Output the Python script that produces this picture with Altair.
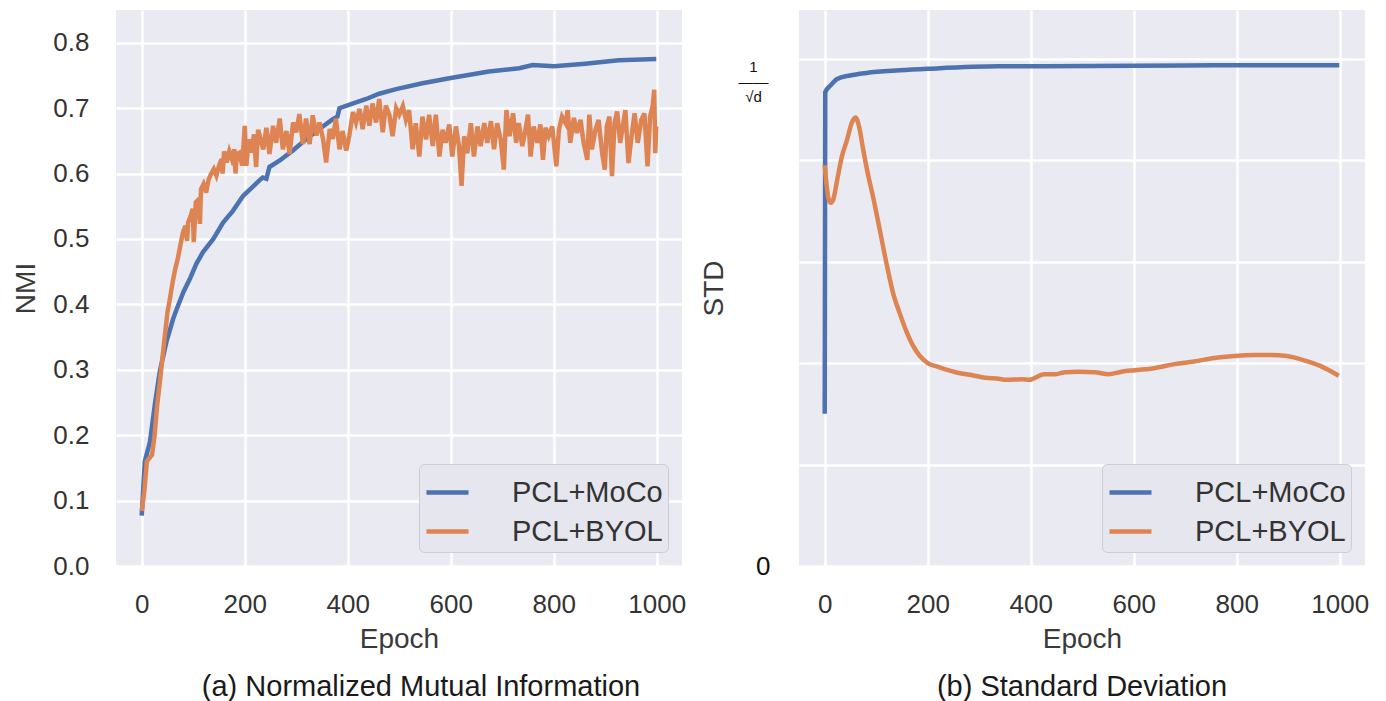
import altair as alt
import pandas as pd

SERIES = ["PCL+MoCo", "PCL+BYOL"]
COLORS = ["#4c72b0", "#dd8452"]
FONT = "Liberation Sans"

# ---- (a) NMI ----
nmi_moco_epoch = [0, 6, 16, 26, 35, 48, 61, 68, 81, 94, 106, 119, 139, 158, 177, 197, 216, 229, 235,
                  242, 248, 268, 293, 320, 345, 371, 380, 384, 409, 436, 461, 494, 545, 600, 674, 733,
                  759, 800, 861, 926, 999]
nmi_moco_value = [0.077, 0.16, 0.19, 0.25, 0.297, 0.343, 0.378, 0.393, 0.419, 0.44, 0.462, 0.48, 0.50,
                  0.525, 0.543, 0.566, 0.58, 0.59, 0.594, 0.592, 0.61, 0.62, 0.635, 0.653, 0.668, 0.683,
                  0.687, 0.70, 0.707, 0.714, 0.722, 0.729, 0.738, 0.746, 0.756, 0.761, 0.766, 0.764,
                  0.768, 0.773, 0.775]

nmi_byol_epoch = [0, 5, 10, 15, 20, 25, 30, 35, 40, 45, 50, 55, 60, 65, 70, 75, 80, 85, 88, 90, 95, 99,
                  101, 105, 110, 113, 115, 120, 125, 130, 135, 140, 145, 150, 155, 157, 160, 165, 170,
                  175, 180, 182, 185, 190, 195, 200, 203, 208, 213, 218, 222, 226,
                  229, 236, 242, 248, 255, 261, 268, 274, 281, 287, 294, 300, 306, 313, 319, 326, 332,
                  339, 345, 352, 358, 365, 371, 377, 384, 390, 397, 403, 410, 416, 423, 429, 436, 442,
                  448, 455, 461, 468, 474, 481,
                  487, 494, 500, 507, 513, 519, 526, 532, 539, 545, 552, 558, 565, 571, 578, 584, 590,
                  597, 603, 610, 616, 621, 626, 632, 639, 645, 652, 658, 665, 671, 678, 684, 690, 697,
                  703, 708, 714, 721, 727,
                  732, 739, 745, 750, 755, 761, 768, 774, 779, 784, 790, 797, 805, 810, 816, 823, 827,
                  832, 839, 845, 852, 858, 865, 869, 874, 881, 887, 894, 899, 903, 908, 913, 918, 923,
                  929, 934, 939, 945, 951, 957, 963, 970, 976, 982, 987, 992, 995, 997, 999]
nmi_byol_value = [0.084, 0.114, 0.16, 0.165, 0.17, 0.2, 0.246, 0.28, 0.317, 0.353, 0.388, 0.41, 0.434,
                  0.454, 0.47, 0.49, 0.51, 0.52, 0.497, 0.525, 0.535, 0.546, 0.495, 0.556, 0.56, 0.523,
                  0.576, 0.584, 0.571, 0.591, 0.6, 0.607, 0.597, 0.612, 0.622, 0.6, 0.634, 0.617, 0.634,
                  0.622, 0.637, 0.6, 0.63, 0.632, 0.612, 0.673, 0.612, 0.652, 0.632, 0.66, 0.61, 0.667,
                  0.658, 0.637, 0.67, 0.63, 0.673, 0.647, 0.684, 0.637, 0.665, 0.63, 0.678, 0.663, 0.691,
                  0.645, 0.684, 0.645, 0.689, 0.658, 0.678, 0.653, 0.617, 0.668, 0.653, 0.684, 0.637,
                  0.665, 0.635, 0.658, 0.694, 0.678, 0.699, 0.668, 0.704, 0.673, 0.707, 0.678, 0.714,
                  0.663, 0.704, 0.689,
                  0.657, 0.70, 0.69, 0.703, 0.682, 0.697, 0.637, 0.677, 0.626, 0.687, 0.652, 0.69, 0.642,
                  0.69, 0.626, 0.667, 0.647, 0.675, 0.626, 0.672, 0.642, 0.581, 0.657, 0.631, 0.677,
                  0.626, 0.672, 0.642, 0.677, 0.647, 0.68, 0.637, 0.677, 0.652, 0.606, 0.697, 0.657,
                  0.692, 0.647,
                  0.677, 0.642, 0.667, 0.69, 0.626, 0.672, 0.647, 0.675, 0.621, 0.67, 0.657, 0.672,
                  0.611, 0.667, 0.687, 0.677, 0.697, 0.647, 0.685, 0.662, 0.682, 0.647, 0.621, 0.69,
                  0.637, 0.667, 0.682, 0.631, 0.606, 0.672, 0.687, 0.596, 0.677, 0.695, 0.647, 0.672,
                  0.697, 0.616, 0.657, 0.692, 0.647, 0.682, 0.692, 0.611, 0.687, 0.703, 0.728, 0.631,
                  0.672]

# ---- (b) STD (in units where 1/sqrt(d) ~ 0.985) ----
std_moco_epoch = [0, 1, 11, 24, 49, 81, 146, 200, 338, 400, 600, 800, 999]
std_moco_value = [0.30, 0.934, 0.947, 0.96, 0.967, 0.972, 0.977, 0.98, 0.985, 0.985, 0.986, 0.987, 0.987]

std_byol_epoch = [0, 4, 8, 12, 17, 24, 33, 43, 53, 60, 67, 75, 85, 94, 107, 120, 133, 146, 158, 171,
                  184, 200, 222, 254, 287, 312, 338, 352, 384, 397, 426, 448, 467, 493, 525, 551, 576,
                  602, 640, 679, 717, 756, 795, 833, 865, 897, 929, 961, 998]
std_byol_value = [0.79, 0.747, 0.722, 0.716, 0.724, 0.76, 0.806, 0.839, 0.875, 0.884, 0.865, 0.819,
                  0.767, 0.727, 0.662, 0.596, 0.537, 0.497, 0.464, 0.435, 0.415, 0.40, 0.392, 0.382,
                  0.376, 0.371, 0.369, 0.367, 0.368, 0.367, 0.378, 0.378, 0.382, 0.383, 0.382, 0.378,
                  0.383, 0.386, 0.39, 0.398, 0.403, 0.41, 0.414, 0.416, 0.416, 0.414, 0.406, 0.395, 0.375]

INV_SQRT_D = 0.985

nmi_ticks = [0.0, 0.1, 0.2, 0.3, 0.4, 0.5, 0.6, 0.7, 0.8]
std_grid = [0.0, 0.2, 0.4, 0.6, 0.8, 1.0, INV_SQRT_D]
epoch_ticks = [0, 200, 400, 600, 800, 1000]


def frame(epochs, values, name):
    return pd.DataFrame({"epoch": epochs, "value": values, "method": name})


nmi_df = pd.concat([frame(nmi_moco_epoch, nmi_moco_value, SERIES[0]),
                    frame(nmi_byol_epoch, nmi_byol_value, SERIES[1])], ignore_index=True)
std_df = pd.concat([frame(std_moco_epoch, std_moco_value, SERIES[0]),
                    frame(std_byol_epoch, std_byol_value, SERIES[1])], ignore_index=True)

x_scale = alt.Scale(domain=[-49.95, 1048.95], nice=False, zero=False)

legend = alt.Legend(title=None, orient="bottom-right", offset=14, fillColor="#e6e6ee",
                    strokeColor="#cdcdd4", cornerRadius=5, padding=5, symbolType="stroke",
                    symbolSize=1764, symbolStrokeWidth=4.5, labelFontSize=29, labelFont=FONT,
                    labelColor="#333333", labelOffset=41, rowPadding=-2)
color = alt.Color("method:N", scale=alt.Scale(domain=SERIES, range=COLORS), sort=SERIES,
                  legend=legend)

x_axis = alt.Axis(values=epoch_ticks, format="d", title="Epoch", labelFlush=False,
                  labelPadding=25, titlePadding=8)


def caption(text, dx):
    return alt.TitleParams(text, orient="bottom", anchor="middle", frame="group", offset=20,
                           fontSize=29, font=FONT, fontWeight="normal", color="#1a1a1a", dx=dx)


left = alt.Chart(nmi_df).mark_line(strokeWidth=4.5).encode(
    x=alt.X("epoch:Q", scale=x_scale, axis=x_axis),
    y=alt.Y("value:Q", scale=alt.Scale(domain=[0, 0.85], nice=False),
            axis=alt.Axis(values=nmi_ticks, format=".1f", title="NMI", labelPadding=27,
                          titlePadding=12)),
    color=color,
).properties(width=566, height=556, title=caption("(a) Normalized Mutual Information", 22))

cond_test = "datum.value > 0.98 && datum.value < 0.99"
right = alt.Chart(std_df).mark_line(strokeWidth=4.5, interpolate="monotone").encode(
    x=alt.X("epoch:Q", scale=x_scale, axis=x_axis),
    y=alt.Y("value:Q", scale=alt.Scale(domain=[0, 1.096], nice=False),
            axis=alt.Axis(values=std_grid, title="STD", titlePadding=10,
                          labelOverlap=False, labelColor="#111111", labelLineHeight=15,
                          labelExpr="datum.value == 0 ? '0' : (" + cond_test
                                    + ") ? ['1', '\u2014\u2014', '\u221ad'] : ''",
                          labelAlign={"condition": {"test": cond_test, "value": "center"},
                                      "value": "right"},
                          labelPadding={"condition": {"test": cond_test, "value": 46},
                                        "value": 29},
                          labelFontSize={"condition": {"test": "datum.value == 0", "value": 26},
                                         "value": 15},
                          gridOpacity={"condition": {"test": cond_test, "value": 0},
                                       "value": 1})),
    color=color,
).properties(width=566, height=556, title=caption("(b) Standard Deviation", 0))

chart = alt.hconcat(left, right, spacing=14).resolve_scale(color="independent").resolve_legend(
    color="independent"
).properties(
    padding={"top": 2, "left": 4, "right": 0, "bottom": 0}
).configure_view(
    fill="#eaeaf2", strokeWidth=0
).configure_axis(
    domain=False, ticks=False, grid=True, gridColor="#ffffff", gridWidth=2.5,
    labelFont=FONT, labelFontSize=26, labelColor="#333333",
    titleFont=FONT, titleFontSize=28, titleColor="#3a3a3a", titleFontWeight="normal"
)

chart.save("out.html", embed_options={"renderer": "svg", "actions": False})
